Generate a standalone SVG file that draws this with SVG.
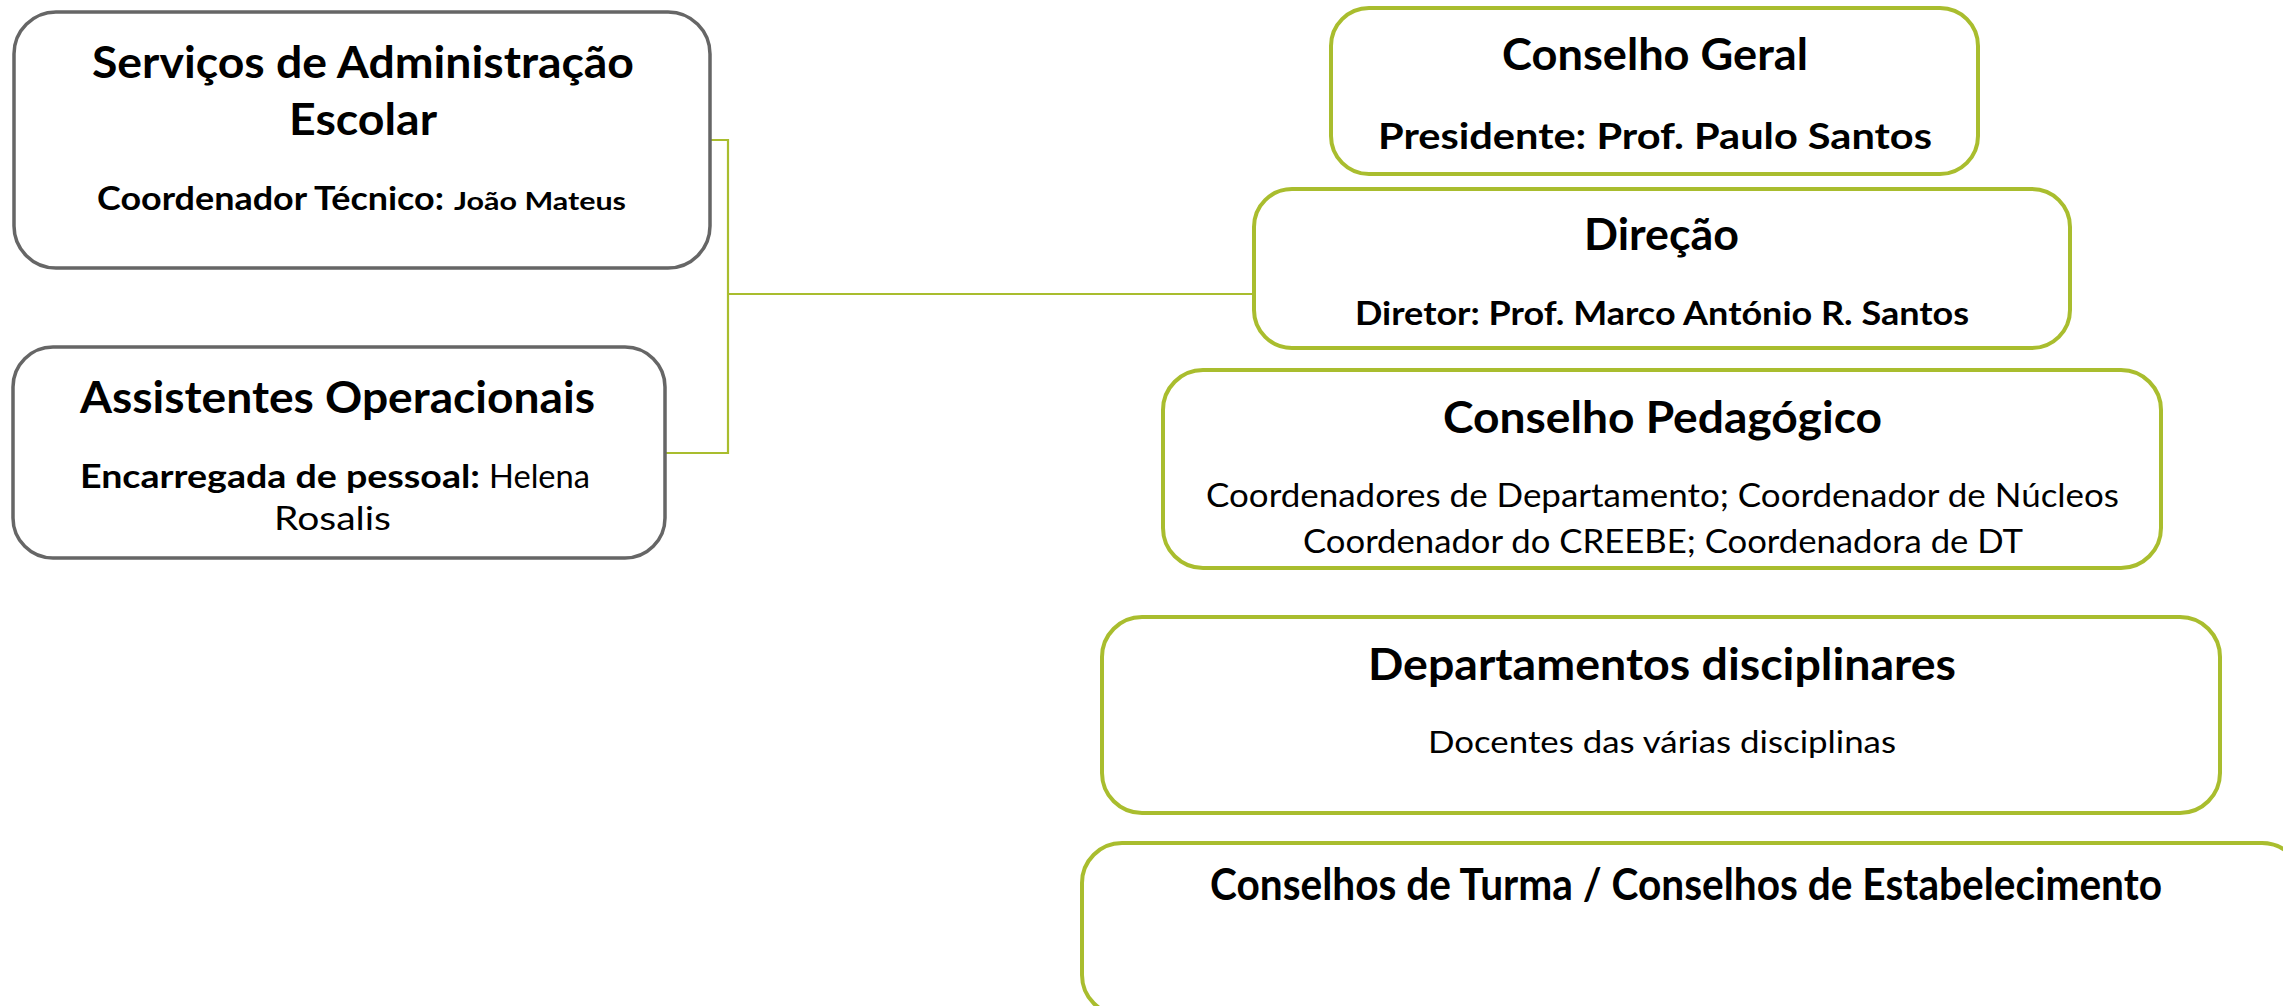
<svg xmlns="http://www.w3.org/2000/svg" width="2283" height="1006" viewBox="0 0 2283 1006">
<style>
.gbox{fill:#fff;stroke:#666;stroke-width:3.5}
.lbox{fill:#fff;stroke:#a9bd2e;stroke-width:4}
.conn{fill:none;stroke:#a9bd2e;stroke-width:2.2}
text{font-family:Lato,"Open Sans","Liberation Sans",sans-serif;fill:#000}
.t{font-weight:bold;font-size:43px}
.b{font-weight:bold}
.r{font-weight:normal}
</style>
<rect width="2283" height="1006" fill="#fff"/>
<g id="connectors">
<polyline class="conn" points="710,140 728,140 728,453 665,453"/>
<line class="conn" x1="728" y1="294" x2="1254" y2="294"/>
</g>
<g id="node-servicos">
<rect class="gbox" x="14" y="12" width="696" height="256" rx="42"/>
<text class="t" x="92" y="78" textLength="542" lengthAdjust="spacingAndGlyphs">Serviços de Administração</text>
<text class="t" x="289" y="135" textLength="148" lengthAdjust="spacingAndGlyphs">Escolar</text>
<text class="b" x="97" y="210" font-size="32" textLength="347" lengthAdjust="spacingAndGlyphs">Coordenador Técnico:</text>
<text class="b" x="454" y="210" font-size="25" textLength="172" lengthAdjust="spacingAndGlyphs">João Mateus</text>
</g>
<g id="node-assistentes">
<rect class="gbox" x="13" y="347" width="652" height="211" rx="40"/>
<text class="t" x="80" y="413" textLength="515" lengthAdjust="spacingAndGlyphs">Assistentes Operacionais</text>
<text class="b" x="80" y="488" font-size="32" textLength="400" lengthAdjust="spacingAndGlyphs">Encarregada de pessoal:</text>
<text class="r" x="489" y="488" font-size="32" textLength="101" lengthAdjust="spacingAndGlyphs">Helena</text>
<text class="r" x="274" y="530" font-size="32" textLength="117" lengthAdjust="spacingAndGlyphs">Rosalis</text>
</g>
<g id="node-conselho-geral">
<rect class="lbox" x="1331" y="8" width="647" height="166" rx="38"/>
<text class="t" x="1502" y="70" textLength="306" lengthAdjust="spacingAndGlyphs">Conselho Geral</text>
<text class="b" x="1378" y="149" font-size="36" textLength="554" lengthAdjust="spacingAndGlyphs">Presidente: Prof. Paulo Santos</text>
</g>
<g id="node-direcao">
<rect class="lbox" x="1254" y="189" width="816" height="159" rx="38"/>
<text class="t" x="1584" y="250" textLength="155" lengthAdjust="spacingAndGlyphs">Direção</text>
<text class="b" x="1355" y="325" font-size="32" textLength="614" lengthAdjust="spacingAndGlyphs">Diretor: Prof. Marco António R. Santos</text>
</g>
<g id="node-conselho-pedagogico">
<rect class="lbox" x="1163" y="370" width="998" height="198" rx="40"/>
<text class="t" x="1443" y="433" font-size="41" textLength="439" lengthAdjust="spacingAndGlyphs">Conselho Pedagógico</text>
<text class="r" x="1206" y="507" font-size="32" textLength="913" lengthAdjust="spacingAndGlyphs">Coordenadores de Departamento; Coordenador de Núcleos</text>
<text class="r" x="1303" y="553" font-size="32" textLength="720" lengthAdjust="spacingAndGlyphs">Coordenador do CREEBE; Coordenadora de DT</text>
</g>
<g id="node-departamentos">
<rect class="lbox" x="1102" y="617" width="1118" height="196" rx="40"/>
<text class="t" x="1368" y="680" textLength="588" lengthAdjust="spacingAndGlyphs">Departamentos disciplinares</text>
<text class="r" x="1428" y="753" font-size="31" textLength="468" lengthAdjust="spacingAndGlyphs">Docentes das várias disciplinas</text>
</g>
<g id="node-conselhos-turma">
<rect class="lbox" x="1082" y="843" width="1220" height="172" rx="40"/>
<text class="t" x="1210" y="900" font-size="38" textLength="952" lengthAdjust="spacingAndGlyphs">Conselhos de Turma / Conselhos de Estabelecimento</text>
</g>
</svg>
